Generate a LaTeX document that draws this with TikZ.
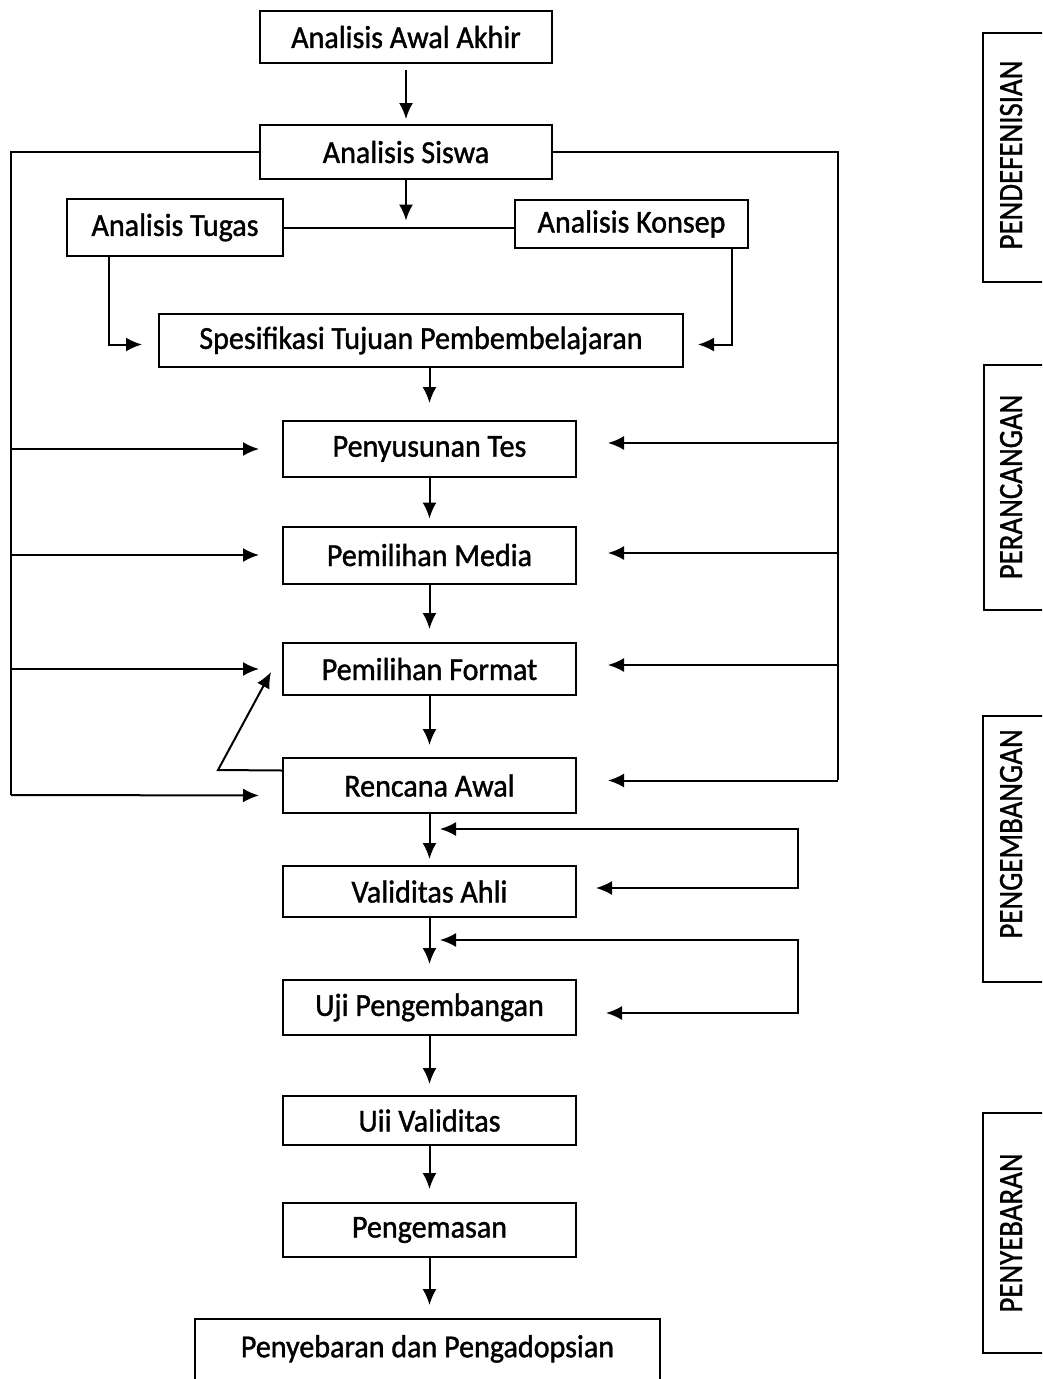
\documentclass[tikz,border=0pt]{standalone}
\usepackage{fontspec}
\setmainfont{Carlito}[FakeStretch=0.94, FakeBold=1.2]
\newfontfamily\phasefont{Carlito}[FakeStretch=0.85, FakeBold=1]
\usetikzlibrary{arrows.meta,calc}
\tikzstyle{line} = [draw, -{Latex[length=16pt,width=14pt]}]
\tikzstyle{backline} = [draw, {Latex[length=16pt,width=14pt]}-{Latex[length=16pt,width=14pt]}]
\tikzstyle{block} = [draw, rectangle, text centered, inner sep=0pt, minimum width=293pt]
\tikzstyle{phasebox} = [draw, rectangle, minimum width=90pt]
\tikzstyle{phase} = [rotate=90, anchor=base, font=\phasefont\fontsize{34pt}{38pt}\selectfont]

\begin{document}
\begin{tikzpicture}[x=1pt, y=-1pt, line width=2pt, font=\fontsize{32pt}{36pt}\selectfont]
    \useasboundingbox (0,0) rectangle (1042,1379);
    \clip (0,0) rectangle (1042,1379);
        \node[block, minimum width=292pt, minimum height=52pt] (awal) at (406,37) {Analisis Awal Akhir};
        \node[block, minimum width=292pt, minimum height=54pt] (siswa) at (406,152) {Analisis Siswa};
        \node[block, minimum width=216pt, minimum height=57pt] (tugas) at (175,227.5) {Analisis Tugas};
        \node[block, minimum width=233pt, minimum height=48pt] (konsep) at (631.5,224) {Analisis Konsep};
        \node[block, minimum width=524pt, minimum height=53pt] (spes) at (421,340.5) {Spesifikasi Tujuan Pembembelajaran};
        \node[block, minimum height=56pt] (tes) at (429.5,449) {Penyusunan Tes};
        \node[block, minimum height=57pt] (media) at (429.5,555) {Pemilihan Media};
        \node[block, minimum height=52pt] (format) at (429.5,669) {Pemilihan Format};
        \node[block, minimum height=55pt] (rencana) at (429.5,785.5) {Rencana Awal};
        \node[block, minimum height=51pt] (validitas) at (429.5,891.5) {Validitas Ahli};
        \node[block, minimum height=55pt] (uji) at (429.5,1007.5) {Uji Pengembangan};
        \node[block, minimum height=49pt] (uii) at (429.5,1120.5) {Uii Validitas};
        \node[block, minimum height=54pt] (kemas) at (429.5,1230) {Pengemasan};
        \node[block, anchor=north, minimum width=465pt, inner ysep=16pt, text depth=50pt] (sebar) at (427.5,1318) {Penyebaran dan Pengadopsian};

        \node[phasebox, minimum height=249pt] (define) at (1028,157.5) {};
        \node[phase] at (1022,155) {PENDEFENISIAN};
        \node[phasebox, minimum height=245pt] (design) at (1029,487.5) {};
        \node[phase] at (1022,487) {PERANCANGAN};
        \node[phasebox, minimum height=266pt] (develop) at (1028,849) {};
        \node[phase] at (1022,834) {PENGEMBANGAN};
        \node[phasebox, minimum height=240pt] (spread) at (1028,1233) {};
        \node[phase] at (1022,1233) {PENYEBARAN};

        \coordinate (lbot) at (11,795);
        \coordinate (rbot) at (838,780);
        \coordinate (kink) at (218,770);
        \coordinate (fbA) at (440,829);
        \coordinate (fbB) at (798,829);
        \coordinate (fbC) at (798,888);
        \coordinate (fbD) at (440,940);
        \coordinate (fbE) at (798,940);
        \coordinate (fbF) at (798,1013);

        \path[line, shorten <=6pt, shorten >=5pt] (awal) -- (siswa);
        \draw (siswa.west) -| (lbot);
        \draw (siswa.east) -| (rbot);
        \path[line, shorten >=7pt] (siswa.south) -- (siswa.south |- tugas.east);
        \draw (tugas.east) -- (tugas.east -| konsep.west);
        \path[line, shorten >=16pt] ([xshift=-66pt]tugas.south) |- ([yshift=-4pt]spes.west);
        \path[line, shorten >=14pt] ([xshift=100pt]konsep.south) |- ([yshift=-4pt]spes.east);
        \path[line, shorten >=17pt] (tes.north |- spes.south) -- (tes.north);
        \path[line, shorten >=7pt] (tes) -- (media);
        \path[line, shorten >=13pt] (media) -- (format);
        \path[line, shorten >=12pt] (format) -- (rencana);
        \path[line, shorten >=6pt] (rencana) -- (validitas);
        \path[line, shorten >=15pt] (validitas) -- (uji);
        \path[line, shorten >=11pt] (uji) -- (uii);
        \path[line, shorten >=13pt] (uii) -- (kemas);
        \path[line, shorten >=13pt] (kemas.south) -- (kemas.south |- sebar.north);

        \foreach \n in {tes, media, format}
            \path[line, shorten >=23pt] (lbot |- \n.west) -- (\n.west);
        \path[line, shorten >=23pt] (lbot) -- ([yshift=-10pt]rencana.west);
        \foreach \n/\s in {tes/6, media/2, format/4, rencana/5}
            \path[line, shorten >=31pt] ($(\n.east -| rbot)+(0,-\s)$) -- ($(\n.east)+(0,-\s)$);
        \path[line] ([yshift=15pt]rencana.west) -- (kink) -- ([shift={(-11pt,-3pt)}]format.west);

        \path[backline] (fbA) -- (fbB) -- (fbC) -- ([xshift=19pt,yshift=3.5pt]validitas.east);
        \path[backline] (fbD) -- (fbE) -- (fbF) -- ([xshift=29pt,yshift=-5.5pt]uji.east);
    \end{tikzpicture}
\end{document}
